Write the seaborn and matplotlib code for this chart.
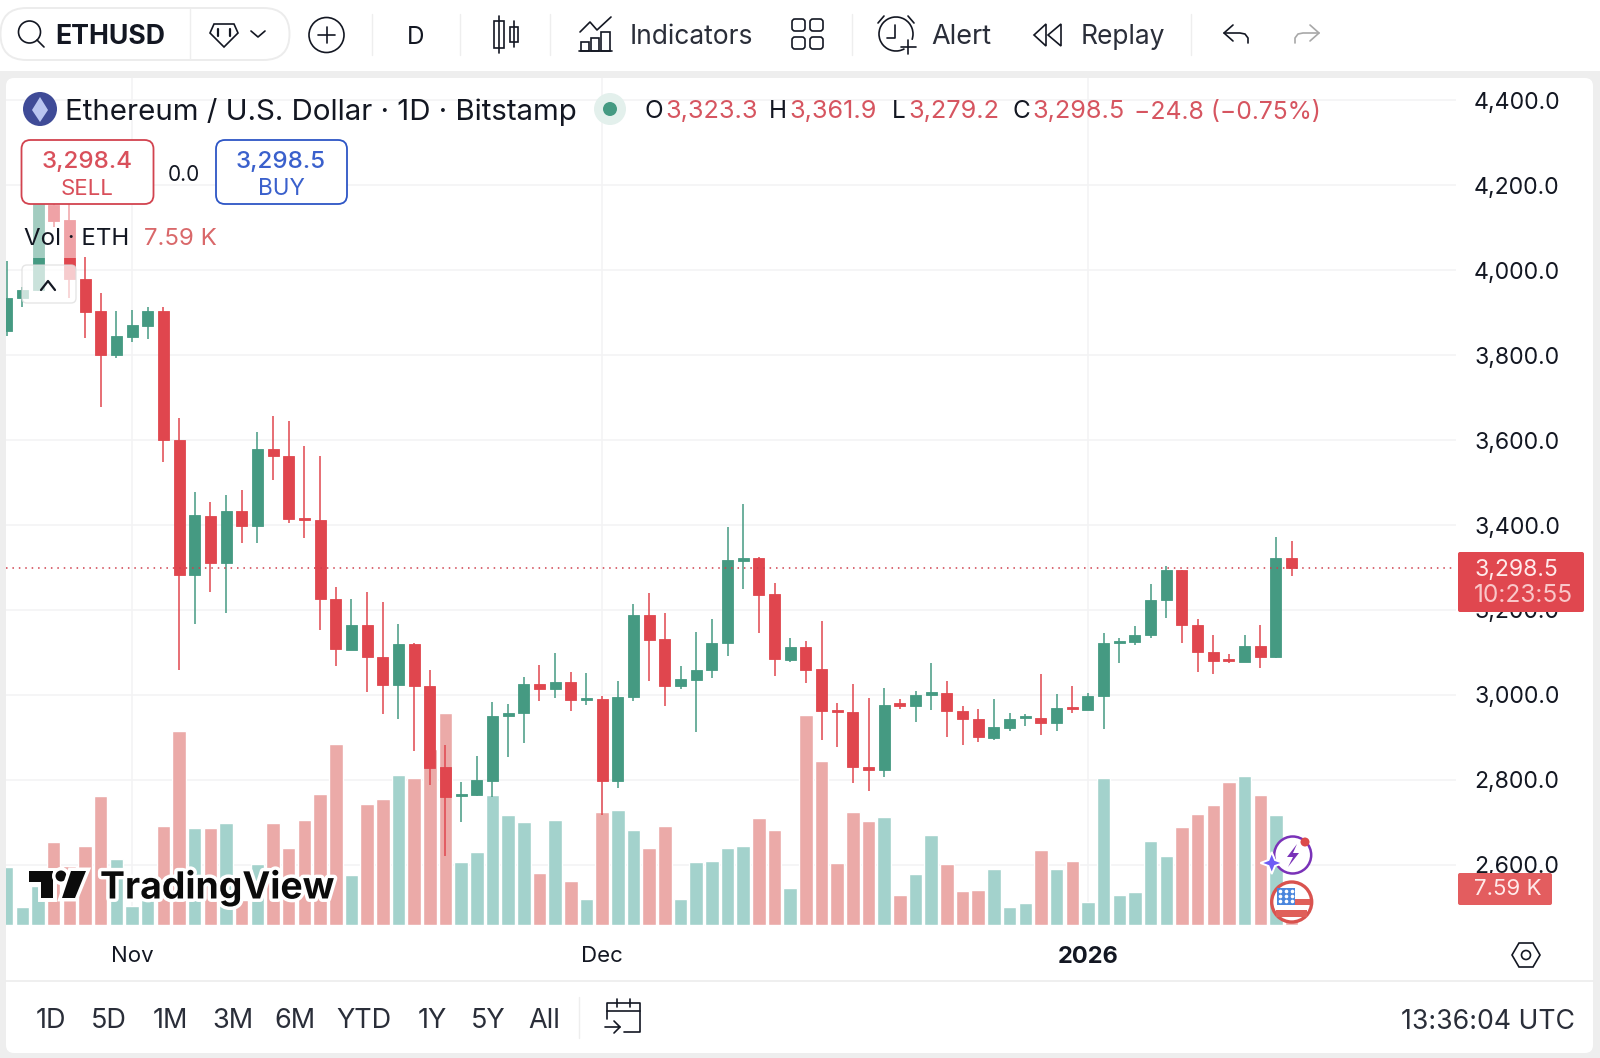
import matplotlib
matplotlib.use("Agg")
import matplotlib.pyplot as plt
import matplotlib.patheffects as pe
from matplotlib.patches import Circle, FancyBboxPatch, Polygon, Rectangle, Arc
import pandas as pd
import seaborn as sns

# Daily candles
opens = [3857, 3933, 3953, 4153, 4117, 3978, 3903, 3801, 3843, 3869, 3903, 3601, 3283, 3421, 3311, 3432, 3398,
         3580, 3563, 3416, 3412, 3227, 3107, 3165, 3090, 3024, 3120, 3021, 2830, 2762, 2765, 2798, 2951, 2957,
         3026, 3013, 3031, 2988, 2990, 2798, 2996, 3188, 3131, 3020, 3035, 3059, 3122, 3315, 3322, 3237, 3083,
         3112, 3060, 2965, 2960, 2831, 2824, 2982, 2975, 3000, 3005, 2962, 2944, 2898, 2923, 2945, 2947, 2933,
         2972, 2965, 2998, 3123, 3124, 3142, 3223, 3293, 3165, 3101, 3084, 3078, 3115, 3090, 3323.3]
highs = [4022, 3960, 4260, 4180, 4160, 4031, 3945, 3903, 3906, 3914, 3912, 3651, 3478, 3455, 3470, 3482, 3620,
         3656, 3645, 3586, 3563, 3255, 3225, 3243, 3218, 3167, 3122, 3059, 2882, 2796, 2857, 2983, 2979, 3043,
         3071, 3098, 3053, 3051, 2998, 3033, 3214, 3239, 3192, 3068, 3149, 3178, 3395, 3449, 3325, 3263, 3133,
         3128, 3174, 2980, 3027, 2994, 3016, 2991, 3009, 3075, 3032, 2973, 2966, 2990, 2957, 2955, 3050, 3002,
         3020, 3005, 3147, 3133, 3162, 3261, 3304, 3294, 3178, 3142, 3096, 3140, 3165, 3371, 3361.9]
lows = [3845, 3914, 3950, 4102, 3933, 3839, 3678, 3794, 3831, 3837, 3549, 3059, 3167, 3243, 3194, 3357, 3358,
        3507, 3404, 3370, 3153, 3068, 3107, 3007, 2955, 2943, 2869, 2788, 2621, 2702, 2762, 2761, 2855, 2886,
        2987, 2993, 2963, 2977, 2718, 2782, 2987, 3034, 2974, 3013, 2914, 3040, 3092, 3250, 3147, 3045, 3078,
        3029, 2894, 2877, 2792, 2773, 2806, 2966, 2937, 2965, 2902, 2882, 2890, 2894, 2916, 2926, 2907, 2915,
        2957, 2965, 2921, 3076, 3118, 3133, 3182, 3123, 3053, 3050, 3075, 3077, 3064, 3088, 3279.2]
closes = [3935, 3953, 4200, 4116, 3978, 3902, 3801, 3845, 3871, 3904, 3601, 3283, 3423, 3311, 3432, 3398, 3580,
          3563, 3414, 3412, 3227, 3108, 3165, 3090, 3024, 3120, 3020, 2829, 2761, 2767, 2800, 2951, 2957, 3026,
          3013, 3031, 2988, 2992, 2798, 2996, 3188, 3129, 3020, 3037, 3059, 3122, 3318, 3322, 3236, 3084, 3112,
          3059, 2962, 2961, 2831, 2824, 2977, 2973, 3001, 3006, 2962, 2944, 2902, 2924, 2944, 2950, 2933, 2969,
          2968, 2998, 3122, 3128, 3142, 3223, 3293, 3165, 3102, 3081, 3080, 3115, 3090, 3322.4, 3298.5]
# Volume in thousands of ETH
volumes = [12.2, 3.8, 8.2, 17.4, 12.4, 16.5, 26.9, 13.8, 3.9, 5.2, 20.7, 40.6, 20.3, 20.3, 21.2, 5.2, 12.7,
           21.2, 16.1, 21.9, 27.3, 37.8, 10.5, 25.3, 26.3, 31.4, 30.8, 36.7, 44.2, 13.1, 15.3, 27.1, 22.9, 21.5,
           10.8, 21.9, 9.2, 5.4, 23.6, 24.1, 19.9, 16.1, 20.7, 5.4, 13.1, 13.4, 16.0, 16.5, 22.3, 19.9, 7.8,
           43.9, 34.2, 13.0, 23.6, 21.7, 22.5, 6.2, 10.6, 18.9, 12.8, 7.2, 7.4, 11.8, 3.7, 4.6, 15.7, 11.6,
           13.4, 4.8, 30.7, 6.2, 6.8, 17.6, 14.5, 20.5, 23.1, 25.1, 29.8, 31.1, 27.1, 22.9, 7.59]

price_ticks = [2600, 2800, 3000, 3200, 3400, 3600, 3800, 4000, 4200, 4400]
month_pos = [8, 38, 69]
month_labels = ["Nov", "Dec", "2026"]
last_close = 3298.5
range_labels = ["1D", "5D", "1M", "3M", "6M", "YTD", "1Y", "5Y", "All"]

RED = "#e0464e"
GREEN = "#459a82"
RED_SOFT = "#ebaaa8"
GREEN_SOFT = "#a3d2cc"
TEXT_RED = "#d65560"
INK = "#131722"
GRID = "#f3f3f4"

sns.set_theme(style="white")
plt.rcParams["font.family"] = ["Inter", "DejaVu Sans"]

df = pd.DataFrame({"open": opens, "high": highs, "low": lows, "close": closes, "volume": volumes})
df["idx"] = range(len(df))
df["up"] = df["close"] >= df["open"]
df["dir"] = df["up"].map({True: "up", False: "down"})

W, H = 1600, 1058
fig = plt.figure(figsize=(16, 10.58), dpi=100, facecolor="#eeeeee")
rect = [6 / W, (H - 925) / H, 1450 / W, 847 / H]
xlim = (-0.045, 92.49)

# white panels behind everything
ax_bg = fig.add_axes([0, 0, 1, 1], zorder=0)
ax_bg.set_xlim(0, W)
ax_bg.set_ylim(H, 0)
ax_bg.axis("off")
ax_bg.add_patch(Rectangle((0, 0), W, 71, fc="white", ec="none"))
ax_bg.add_patch(FancyBboxPatch((6, 78), 1587, 975, boxstyle="round,pad=0,rounding_size=8", fc="white", ec="none"))

# grid and price labels
ax_grid = fig.add_axes(rect, zorder=1)
ax_grid.patch.set_visible(False)
ax_grid.set_xlim(*xlim)
ax_grid.set_ylim(2458.8, 4451.8)
ax_grid.yaxis.tick_right()
ax_grid.set_yticks(price_ticks)
ax_grid.set_yticklabels([f"{v:,.1f}" for v in price_ticks], fontsize=16.6, color=INK)
ax_grid.set_xticks(month_pos)
ax_grid.set_xticklabels(month_labels, fontsize=16, color=INK)
ax_grid.get_xticklabels()[2].set_fontweight("bold")
ax_grid.get_xticklabels()[2].set_fontsize(17)
ax_grid.tick_params(axis="y", length=0, pad=13)
ax_grid.tick_params(axis="x", length=0, pad=15.2)
ax_grid.grid(True, color=GRID, lw=1.1)
sns.despine(ax=ax_grid, left=True, bottom=True, right=True, top=True)

# volume
ax_vol = fig.add_axes(rect, zorder=2)
ax_vol.patch.set_visible(False)
sns.barplot(data=df, x="idx", y="volume", hue="dir", palette={"up": GREEN_SOFT, "down": RED_SOFT},
            native_scale=True, dodge=False, width=0.86, saturation=1, legend=False, ax=ax_vol)
ax_vol.set_xlim(*xlim)
ax_vol.set_ylim(0, 176.9)
ax_vol.axis("off")

# candles
ax = fig.add_axes(rect, zorder=3)
ax.patch.set_visible(False)
colors = df["up"].map({True: GREEN, False: RED})
ax.vlines(df["idx"], df["low"], df["high"], colors=colors, lw=1.1)
ax.bar(df["idx"], (df["close"] - df["open"]).abs(), bottom=df[["open", "close"]].min(axis=1),
       width=0.7, color=colors, edgecolor=colors, lw=0.6)
ax.axhline(last_close, color="#cf3f4c", lw=1.1, ls=(0, (1, 3.2)))
ax.set_xlim(*xlim)
ax.set_ylim(2458.8, 4451.8)
ax.axis("off")

# everything on top of the chart, in pixel coordinates
ui = fig.add_axes([0, 0, 1, 1], zorder=4)
ui.patch.set_visible(False)
ui.set_xlim(0, W)
ui.set_ylim(H, 0)
ui.axis("off")


def label(x, y, s, size=16, color=INK, ha="left", **kw):
    return ui.text(x, y + 2, s, fontsize=size, color=color, ha=ha, va="center", **kw)


def stroke(xs, ys, color=INK, lw=1.2):
    ui.plot(xs, ys, color=color, lw=lw, solid_capstyle="round", solid_joinstyle="round")


def box(x, y, w, h, r=6, fc="white", ec="none", lw=1.2, alpha=None):
    ui.add_patch(FancyBboxPatch((x, y), w, h, boxstyle=f"round,pad=0,rounding_size={r}",
                                fc=fc, ec=ec, lw=lw, alpha=alpha))


# top toolbar
box(0.5, 8, 289, 52, r=26, ec="#ececec", lw=1.4)
for x in [190]:
    stroke([x, x], [9, 59], "#eeeeee", 1)
for x in [372, 460, 550, 852, 1191]:
    stroke([x, x], [14, 55], "#eeeeee", 1)
ui.add_patch(Circle((29.5, 32), 11, fc="none", ec=INK, lw=1.2))
stroke([37, 44], [40, 47])
label(55.5, 35, "ETHUSD", size=19.2, weight="bold")
ui.add_patch(Polygon([(214, 24), (234, 24), (238, 33), (224, 47), (210, 33)], fc="none", ec=INK, lw=1.2))
stroke([218, 218], [29, 36], lw=1.6)
stroke([230, 230], [29, 36], lw=1.6)
stroke([251, 258, 265], [31, 37, 31])
ui.add_patch(Circle((326.5, 35), 17.5, fc="none", ec=INK, lw=1.2))
stroke([318, 335], [35, 35])
stroke([326.5, 326.5], [27, 43])
label(416, 35, "D", size=17.5, ha="center")
# candle icon
stroke([498.5, 498.5], [16, 53])
ui.add_patch(Rectangle((494, 21), 9.5, 27, fc="white", ec=INK, lw=1.2))
stroke([514, 514], [21, 47])
ui.add_patch(Rectangle((510, 27), 8, 15, fc="white", ec=INK, lw=1.2))
# indicators icon
stroke([580, 590, 597, 611], [32, 22, 30, 17])
stroke([579, 612], [51, 51])
ui.add_patch(Rectangle((581, 42), 8, 9, fc="none", ec=INK, lw=1.2))
ui.add_patch(Rectangle((591, 38), 8, 13, fc="none", ec=INK, lw=1.2))
ui.add_patch(Rectangle((601, 32), 9, 19, fc="none", ec=INK, lw=1.2))
label(630, 35, "Indicators", size=19, color="#2a2e39")
for x, y in [(792, 19), (810, 19), (792, 37), (810, 37)]:
    box(x, y, 13, 12, r=3, fc="none", ec=INK, lw=1.2)
# alert icon
ui.add_patch(Arc((896, 34), 34, 34, theta1=60, theta2=20, color=INK, lw=1.2))
stroke([895, 895, 887], [25, 38, 38])
stroke([878, 884], [23, 16])
stroke([914, 908], [23, 16])
stroke([901, 916], [47, 47])
stroke([908, 908], [40, 54])
label(931, 35, "Alert", size=19.5, color="#2a2e39")
ui.add_patch(Polygon([(1034, 35), (1046, 24), (1046, 46)], fc="none", ec=INK, lw=1.2))
ui.add_patch(Polygon([(1048, 35), (1061, 24), (1061, 46)], fc="none", ec=INK, lw=1.2))
label(1080.5, 35, "Replay", size=19, color="#2a2e39")
stroke([1233, 1224, 1233], [25, 33, 41])
stroke([1224, 1240, 1245, 1248, 1248], [33, 33, 34, 38, 43])
stroke([1310, 1319, 1310], [25, 33, 41], "#a8a8a8")
stroke([1319, 1303, 1298, 1295, 1295], [33, 33, 34, 38, 43], "#a8a8a8")

# symbol header
ui.add_patch(Circle((40, 109), 17, fc="#3f4b97", ec="none"))
ui.add_patch(Polygon([(40, 97), (48, 110), (40, 122), (32, 110)], fc="#b9c5f0", ec="none"))
label(65, 110, "Ethereum / U.S. Dollar · 1D · Bitstamp", size=21.25)
ui.add_patch(Circle((610, 109), 16, fc="#e3f0ec", ec="none"))
ui.add_patch(Circle((610, 109), 7, fc=GREEN, ec="none"))
for x, s in [(644, "O"), (769, "H"), (892, "L"), (1012, "C")]:
    label(x, 110, s, size=17.5)
for x, s in [(665, "3,323.3"), (789, "3,361.9"), (908, "3,279.2"), (1032, "3,298.5")]:
    label(x, 110, s, size=18.2, color=TEXT_RED)
label(1134, 110, "−24.8 (−0.75%)", size=17.8, color=TEXT_RED)

# the legend block lightens the candles below it
ui.add_patch(Rectangle((20, 204), 60, 54, fc="white", ec="none", alpha=0.5))
box(21.5, 140, 132, 64, r=9, ec="#d2434f", lw=1.3)
label(87, 160, "3,298.4", size=17.4, color="#d9505b", ha="center", weight="medium")
label(87, 187, "SELL", size=16, color="#d9505b", ha="center")
label(184, 173, "0.0", size=15, ha="center")
box(216, 140, 131, 64, r=9, ec="#2d55c5", lw=1.3)
label(281, 160, "3,298.5", size=17.4, color="#3a60cc", ha="center", weight="medium")
label(281, 187, "BUY", size=16.2, color="#3a60cc", ha="center")
label(23.5, 237, "Vol · ETH", size=17.3)
label(144, 237, "7.59 K", size=17.3, color="#d9686a")
box(22, 265, 54, 38, r=5, fc="white", ec="#dcdcdc", lw=1, alpha=0.72)
stroke([41, 48, 55], [290, 281, 290], lw=1.6)

# price and volume tags
box(1458, 552, 126, 60, r=2, fc="#e0474f")
label(1474, 568, "3,298.5", size=16.6, color="#ffeaea")
label(1474, 594, "10:23:55", size=17.6, color="#f9c7c9")
box(1458, 873, 94, 32, r=2, fc="#e35d5f")
label(1474, 887, "7.59 K", size=16, color="#ffeaea")

# watermark
for glyph in [
    Polygon([(29, 871), (53, 871), (53, 898), (41, 898), (41, 882), (29, 882)], fc="#0b0b0b", ec="none"),
    Circle((61, 876), 5.5, fc="#0b0b0b", ec="none"),
    Polygon([(71, 871), (86, 871), (75, 898), (62, 898)], fc="#0b0b0b", ec="none"),
]:
    glyph.set_path_effects([pe.withStroke(linewidth=5, foreground="white")])
    ui.add_patch(glyph)
label(100, 886, "TradingView", size=26.9, color="#0b0b0b", weight="bold",
      path_effects=[pe.withStroke(linewidth=5, foreground="white")])

# round badges by the last bar
ui.add_patch(Circle((1292.7, 855), 18.5, fc="white", ec="#7a32b8", lw=1.8))
ui.add_patch(Polygon([(1297, 844), (1287, 857), (1293, 857), (1288, 867), (1299, 853), (1293, 853)], fc="#7a32b8", ec="none"))
ui.add_patch(Polygon([(1271.7, 852), (1275, 860), (1283, 863), (1275, 866), (1271.7, 874), (1268.5, 866), (1260.5, 863), (1268.5, 860)],
                     fc="#6d5cf5", ec="white", lw=1.4))
ui.add_patch(Circle((1305, 842), 4.5, fc="#dc4a4a", ec="none"))
ui.add_patch(Circle((1291.7, 902), 20, fc="white", ec="#d9534f", lw=2.4))
ui.add_patch(Rectangle((1295, 899), 15, 6, fc="#e0605a", ec="none"))
ui.add_patch(Rectangle((1276, 910), 31, 7, fc="#e0605a", ec="none"))
ui.add_patch(Rectangle((1277, 888), 18, 16.5, fc="#4a86dd", ec="none"))
ui.plot([1280, 1286, 1292, 1280, 1286, 1292, 1280, 1286, 1292], [891, 891, 891, 896, 896, 896, 901, 901, 901],
        ls="none", marker="o", ms=1.6, color="white")

# settings hexagon under the price axis
ui.add_patch(Polygon([(1512, 955), (1519, 943), (1533, 943), (1540, 955), (1533, 967), (1519, 967)], fc="none", ec=INK, lw=1.2))
ui.add_patch(Circle((1526, 955), 4.5, fc="none", ec=INK, lw=1.2))

# bottom toolbar
stroke([6, 1593], [980.5, 980.5], "#ececec", 1.2)
for x, s in zip([51, 109, 170, 232.6, 295, 364, 432, 488, 544], range_labels):
    label(x, 1019, s, size=19.5, ha="center", color="#2a2e39")
stroke([579, 579], [997, 1038], "#eeeeee", 1)
stroke([607, 607, 640, 640, 640, 624], [1019, 1003, 1003, 1032, 1032, 1032])
stroke([607, 640], [1011, 1011])
stroke([617, 617], [999, 1007])
stroke([630, 630], [999, 1007])
stroke([605, 620, 614], [1027, 1027, 1021])
stroke([620, 614], [1027, 1033])
label(1575, 1020, "13:36:04 UTC", size=19.2, ha="right", color="#2a2e39")

fig.savefig("out.png", dpi=100, facecolor=fig.get_facecolor())
